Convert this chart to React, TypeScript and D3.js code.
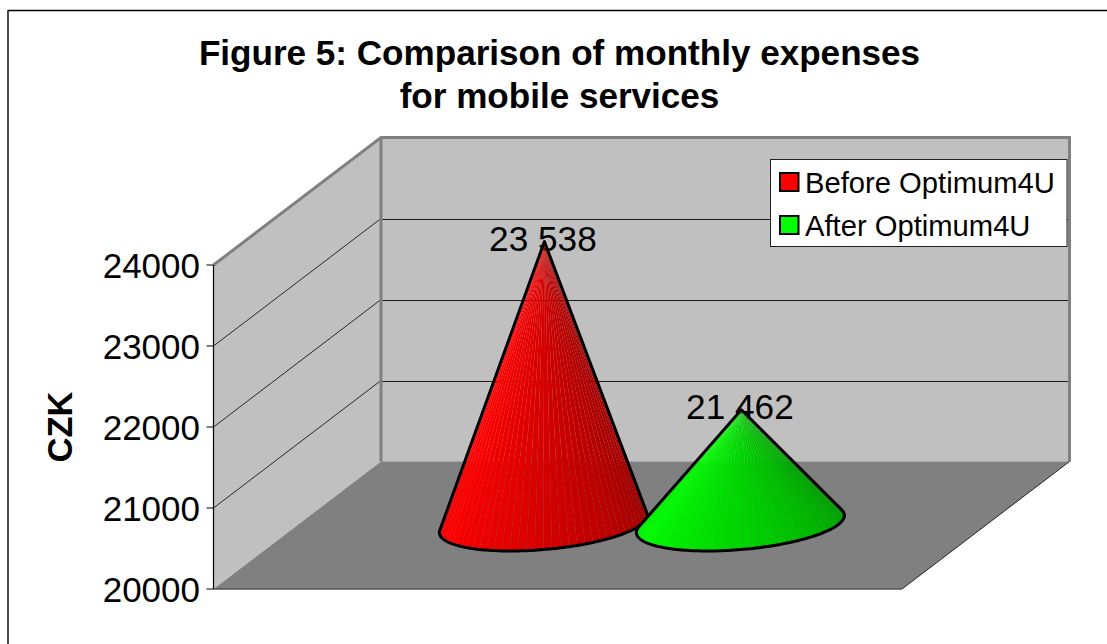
import React from "react";
import * as d3 from "d3";

const seriesNames = ["Before Optimum4U", "After Optimum4U"];
const seriesValues = [23538, 21462];
const valueLabels = ["23 538", "21 462"];
const tickValues = [20000, 21000, 22000, 23000, 24000];
const gridValues = [21000, 22000, 23000];
const lightColors = ["#ff0000", "#00ff00"];
const titleLines = ["Figure 5: Comparison of monthly expenses", "for mobile services"];
const axisTitle = "CZK";

const W = 1107, H = 644;
const FONT = "'Liberation Sans', Arial, sans-serif";
const yScale = d3.scaleLinear().domain([20000, 24000]).range([589, 265]);
const xBand = d3.scaleBand<number>().domain([0, 1]).range([366, 760]);
const frontX0 = 213.5, frontX1 = 902;
const depthX = 167.5, depthY = 127.5;
const coneDepth = 0.477;
const baseU = 98.6, baseVx = 33, baseVy = -27;

function cone(i: number) {
  const cx = xBand(i)! + xBand.bandwidth() / 2 + coneDepth * depthX;
  const apex: [number, number] = [cx, yScale(seriesValues[i]) - coneDepth * depthY];
  const baseC: [number, number] = [cx - 1, 524];
  const pt = (t: number): [number, number] => [
    baseC[0] + baseU * Math.cos(t) + baseVx * Math.sin(t),
    baseC[1] + baseVy * Math.sin(t),
  ];
  const ts = d3.range(0, 720).map((k) => (k * Math.PI) / 360);
  const ang = (t: number) => { const p = pt(t); return Math.atan2(p[0] - apex[0], p[1] - apex[1]); };
  const tL = ts[d3.least(d3.range(ts.length), (k) => ang(ts[k]))!];
  const tR = ts[d3.greatest(d3.range(ts.length), (k) => ang(ts[k]))!];
  const start = tL;
  let end = tR;
  while (end < start) end += 2 * Math.PI;
  return { apex, pt, start, end };
}

const shade = (col: string, f: number) => {
  const c = d3.rgb(col);
  const b = f < 0.15 ? 0.96 + (0.04 * f) / 0.15 : 1 - ((f - 0.15) / 0.85) * 0.42;
  return d3.rgb(c.r * b, c.g * b, c.b * b).formatHex();
};

function Cone({ i }: { i: number }) {
  const { apex, pt, start, end } = cone(i);
  const n = 40;
  const angles = d3.range(n + 1).map((k) => start + ((end - start) * k) / n);
  const fine = d3.range(121).map((k) => pt(start + ((end - start) * k) / 120));
  const outline = d3.line()([apex, ...fine]) + "Z";
  const tri = d3.line();
  return (
    <g>
      {d3.range(n).map((k) => (
        <path key={k} d={tri([apex, pt(angles[k]), pt(angles[k + 1])])! + "Z"} fill={shade(lightColors[i], k / n)} />
      ))}
      <path d={outline} fill="none" stroke="#000" strokeWidth={3} strokeLinejoin="round" />
    </g>
  );
}

export default function App() {
  const backY = (v: number) => yScale(v) - depthY;
  const backX0 = frontX0 + depthX, backX1 = frontX1 + depthX;
  const y0 = yScale(20000), y1 = yScale(24000);
  const wallEdge = "#808080";
  return (
    <svg width={W} height={H} style={{ position: "absolute", left: 0, top: 0 }} fontFamily={FONT}>
      <rect x={0} y={0} width={W} height={H} fill="#fff" />
      <line x1={8} y1={10.5} x2={W} y2={10.5} stroke="#000" strokeWidth={1.4} />
      <line x1={8} y1={10} x2={8} y2={H} stroke="#000" strokeWidth={1.4} />
      {titleLines.map((t, k) => (
        <text key={t} x={559.5} y={65 + k * 43} textAnchor="middle" fontSize={35.1} fontWeight="bold">{t}</text>
      ))}
      <text transform="translate(72,427) rotate(-90)" textAnchor="middle" fontSize={34.5} fontWeight="bold">{axisTitle}</text>

      <polygon points={`${frontX0},${y0} ${backX0},${y0 - depthY} ${backX0},${y1 - depthY} ${frontX0},${y1}`} fill="#c0c0c0" />
      <rect x={backX0} y={y1 - depthY} width={frontX1 - frontX0} height={y0 - y1} fill="#c0c0c0" />
      <polygon points={`${frontX0},${y0} ${frontX1},${y0} ${backX1},${y0 - depthY} ${backX0},${y0 - depthY}`} fill="#808080" />
      <line x1={backX0} y1={y0 - depthY} x2={backX1} y2={y0 - depthY} stroke="#a8a8a8" strokeWidth={1} />

      {gridValues.map((v) => (
        <g key={v} stroke="#000">
          <line x1={frontX0} y1={yScale(v)} x2={backX0} y2={backY(v)} strokeWidth={0.8} />
          <line x1={backX0} y1={Math.round(backY(v)) + 0.5} x2={backX1} y2={Math.round(backY(v)) + 0.5} strokeWidth={1} strokeOpacity={0.85} />
        </g>
      ))}
      <polyline points={`${frontX0},${y1} ${backX0},${y1 - depthY} ${backX1},${y1 - depthY} ${backX1},${y0 - depthY}`} fill="none" stroke={wallEdge} strokeWidth={3} />
      <line x1={backX0} y1={y1 - depthY} x2={backX0} y2={y0 - depthY} stroke={wallEdge} strokeWidth={3} />
      <line x1={frontX1} y1={y0} x2={backX1} y2={y0 - depthY} stroke="#222" strokeWidth={1} />
      <line x1={frontX0} y1={y0} x2={frontX1} y2={y0} stroke="#555" strokeWidth={1.5} />

      <line x1={frontX0} y1={y1} x2={frontX0} y2={y0} stroke="#000" strokeWidth={1.2} />
      {tickValues.map((v) => (
        <g key={v}>
          <line x1={frontX0 - 7} x2={frontX0} y1={yScale(v)} y2={yScale(v)} stroke="#000" strokeWidth={1} />
          <text x={200} y={yScale(v) + 12.5} textAnchor="end" fontSize={35}>{v}</text>
        </g>
      ))}

      {seriesValues.map((_, i) => {
        const { apex } = cone(i);
        return <text key={i} x={apex[0] - 1.5} y={apex[1] + 9.5} textAnchor="middle" fontSize={35.2}>{valueLabels[i]}</text>;
      })}
      {seriesValues.map((_, i) => <Cone key={i} i={i} />)}

      <rect x={770.5} y={159.5} width={296.5} height={87} fill="#fff" stroke="#222" strokeWidth={1} />
      {seriesNames.map((s, i) => (
        <g key={s}>
          <rect x={780} y={173 + i * 43} width={18.5} height={18} fill={lightColors[i]} stroke="#000" strokeWidth={2} />
          <text x={805} y={192.5 + i * 43} fontSize={29.2}>{s}</text>
        </g>
      ))}
    </svg>
  );
}
